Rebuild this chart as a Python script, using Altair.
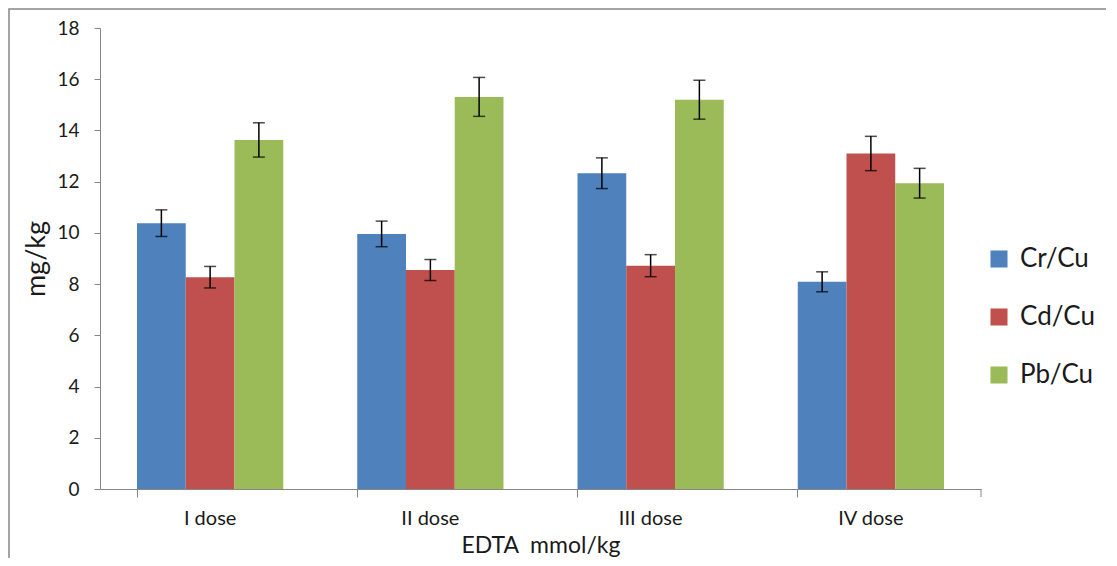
import altair as alt
import pandas as pd

doses = ["I dose", "II dose", "III dose", "IV dose"]
series = ["Cr/Cu", "Cd/Cu", "Pb/Cu"]
cr = [10.38, 9.96, 12.33, 8.09]
cd = [8.27, 8.55, 8.72, 13.10]
pb = [13.63, 15.31, 15.20, 11.94]
cr_err = [0.52, 0.50, 0.60, 0.39]
cd_err = [0.42, 0.41, 0.43, 0.67]
pb_err = [0.67, 0.76, 0.76, 0.58]
colors = ["#4F81BD", "#C0504D", "#9BBB59"]
y_ticks = [0, 2, 4, 6, 8, 10, 12, 14, 16, 18]

rows = []
for name, vals, errs in zip(series, [cr, cd, pb], [cr_err, cd_err, pb_err]):
    for d, v, e in zip(doses, vals, errs):
        rows.append({"dose": d, "series": name, "value": v, "lo": v - e, "hi": v + e})
df = pd.DataFrame(rows)

W, H = 881, 461
FONT = "Lato"
TXT = "#1a1a1a"
AX = "#868686"

x = alt.X("dose:N", sort=doses,
          scale=alt.Scale(paddingInner=0.336, paddingOuter=0.168),
          axis=alt.Axis(title="EDTA\u00a0\u00a0mmol/kg", labelAngle=0, labelFontSize=20,
                        bandPosition=0, tickSize=8, labelPadding=11,
                        titleFontSize=23, titleFontWeight="normal", titlePadding=6))
xo = alt.XOffset("series:N", sort=series, scale=alt.Scale(paddingInner=0, paddingOuter=0))
yscale = alt.Scale(domain=[0, 18], nice=False)

bars = alt.Chart(df).mark_bar().encode(
    x=x, xOffset=xo,
    y=alt.Y("value:Q", scale=yscale,
            axis=alt.Axis(title="mg/kg", values=y_ticks, grid=False, labelFontSize=19,
                          tickSize=6, labelPadding=15, titleFontSize=27,
                          titleFontWeight="normal", titlePadding=6)),
    color=alt.Color("series:N", sort=series,
                    scale=alt.Scale(domain=series, range=colors),
                    legend=alt.Legend(title=None, orient="none", legendX=886, legendY=218,
                                      labelFontSize=26, symbolType="square", symbolSize=290,
                                      rowPadding=32, labelOffset=8, symbolStrokeWidth=0)),
)

err = alt.Chart(df).mark_rule(color="black", strokeWidth=1.5).encode(
    x=x, xOffset=xo, y=alt.Y("lo:Q", scale=yscale), y2="hi:Q")
cap_lo = alt.Chart(df).mark_tick(color="black", size=12, thickness=1.5).encode(
    x=x, xOffset=xo, y=alt.Y("lo:Q", scale=yscale))
cap_hi = alt.Chart(df).mark_tick(color="black", size=12, thickness=1.5).encode(
    x=x, xOffset=xo, y=alt.Y("hi:Q", scale=yscale))

end_tick = alt.Chart(alt.Data(values=[{}])).mark_rule(color=AX, strokeWidth=1).encode(
    x=alt.value(W), y=alt.value(H), y2=alt.value(H + 8))
frame = alt.Chart(alt.Data(values=[{}])).mark_rect(fill=None, stroke=AX, strokeWidth=1.5).encode(
    x=alt.value(-91), x2=alt.value(1200), y=alt.value(-19), y2=alt.value(700))

chart = alt.layer(frame, bars, err, cap_lo, cap_hi, end_tick).properties(
    width=W, height=H,
    autosize=alt.AutoSizeParams(type="none"),
    padding={"left": 92, "top": 20, "right": 125, "bottom": 69},
).configure(font=FONT).configure_view(stroke=None).configure_axis(
    domainColor=AX, tickColor=AX, labelColor=TXT, titleColor=TXT, labelFont=FONT, titleFont=FONT
).configure_legend(labelColor=TXT, labelFont=FONT)

chart.save("out.html", embed_options={"renderer": "svg", "actions": False})
